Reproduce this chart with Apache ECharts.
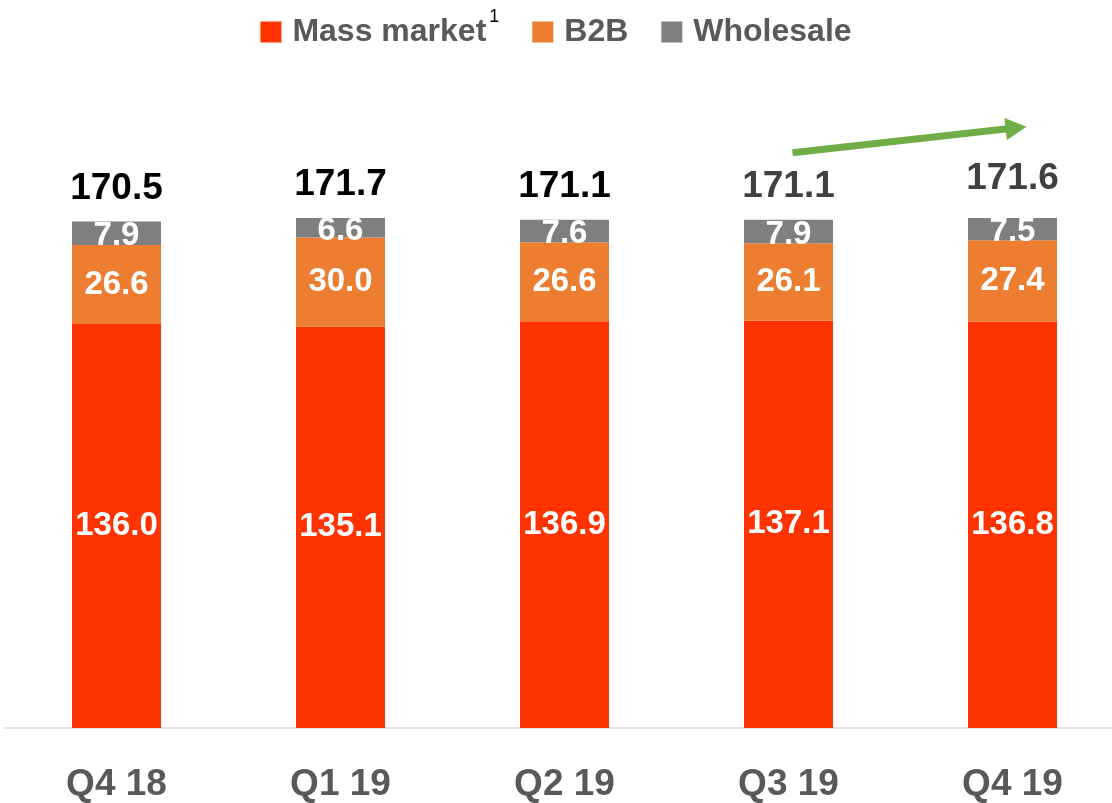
<!DOCTYPE html>
<html>
<head>
<meta charset="utf-8">
<script src="https://cdn.jsdelivr.net/npm/echarts@6/dist/echarts.min.js"></script>
<style>
html,body{margin:0;padding:0;background:#fff;}
#c{width:1112px;height:803px;}
</style>
</head>
<body>
<div id="c"></div>
<script>
var categories = ['Q4 18', 'Q1 19', 'Q2 19', 'Q3 19', 'Q4 19'];
var massMarket = [136.0, 135.1, 136.9, 137.1, 136.8];
var b2b = [26.6, 30.0, 26.6, 26.1, 27.4];
var wholesale = [7.9, 6.6, 7.6, 7.9, 7.5];
var totals = [170.5, 171.7, 171.1, 171.1, 171.6];
var totalColors = ['#000000', '#000000', '#000000', '#404040', '#404040'];
var totalDistance = [14, 14, 14, 14, 20];
var arrowFrom = ['Q3 19', 193.6];
var arrowTo = ['Q4 19', 202.4];

var FONT = '"Liberation Sans", Arial, sans-serif';
var chart = echarts.init(document.getElementById('c'), null, {renderer: 'canvas'});

function segLabel(dy) {
  return {show: true, position: 'inside', offset: [0, dy || 0], color: '#ffffff', fontSize: 33, fontWeight: 'bold', fontFamily: FONT,
    formatter: function (p) { return p.value.toFixed(1); }};
}

var option = {
  animation: false,
  backgroundColor: '#ffffff',
  legend: {
    data: ['Mass market', 'B2B', 'Wholesale'],
    top: 3,
    left: 'center',
    icon: 'rect',
    itemWidth: 21,
    itemHeight: 21,
    itemGap: 33,
    selectedMode: false,
    textStyle: {
      fontSize: 32, fontWeight: 'bold', color: '#595959', fontFamily: FONT,
      padding: [0, 0, 0, 6],
      rich: {
        n: {fontSize: 32, fontWeight: 'bold', color: '#595959', fontFamily: FONT, lineHeight: 48},
        sup: {fontSize: 18, fontWeight: 'normal', color: '#000000', fontFamily: FONT, lineHeight: 18,
          verticalAlign: 'top', padding: [0, 0, 0, 3]}
      }
    },
    formatter: function (name) {
      return name === 'Mass market' ? '{n|Mass market}{sup|1}' : name;
    }
  },
  grid: {left: 4.5, width: 1120, top: 15, bottom: 75, outerBoundsMode: 'none', containLabel: false},
  xAxis: {
    type: 'category',
    data: categories,
    boundaryGap: true,
    axisLine: {show: true, lineStyle: {color: '#d9d9d9', width: 1.5}},
    axisTick: {show: false},
    axisLabel: {margin: 38, fontSize: 37, fontWeight: 'bold', color: '#595959', fontFamily: FONT}
  },
  yAxis: {
    type: 'value', min: 0, max: 240, show: false,
    splitLine: {show: false}
  },
  series: [
    {name: 'Mass market', type: 'bar', stack: 'a', data: massMarket, barWidth: 89,
      itemStyle: {color: '#ff3300'}, label: segLabel(0), silent: true},
    {name: 'B2B', type: 'bar', stack: 'a', data: b2b, barWidth: 89,
      itemStyle: {color: '#ed7d31'}, label: segLabel(0), silent: true},
    {name: 'Wholesale', type: 'bar', stack: 'a', data: wholesale, barWidth: 89,
      itemStyle: {color: '#7f7f7f'}, label: segLabel(3), silent: true},
    {name: 'total', type: 'scatter', silent: true, symbolSize: 1,
      itemStyle: {color: 'rgba(0,0,0,0)', opacity: 1},
      data: totals.map(function (v, i) {
        return {value: [categories[i], v], label: {color: totalColors[i], distance: totalDistance[i]}};
      }),
      label: {show: true, position: 'top', opacity: 1, fontSize: 37, fontWeight: 'bold', fontFamily: FONT,
        formatter: function (p) { return p.value[1].toFixed(1); }}
    }
  ]
};
chart.setOption(option);

function drawArrow() {
  var a = chart.convertToPixel({xAxisIndex: 0, yAxisIndex: 0}, arrowFrom);
  var b = chart.convertToPixel({xAxisIndex: 0, yAxisIndex: 0}, arrowTo);
  var x1 = a[0] + 4, y1 = a[1];
  var x2 = b[0] + 14, y2 = b[1];
  var dx = x2 - x1, dy = y2 - y1, L = Math.sqrt(dx * dx + dy * dy);
  var ux = dx / L, uy = dy / L, px = -uy, py = ux;
  var hl = 21, hw = 11;
  var bx = x2 - ux * hl, by = y2 - uy * hl;
  chart.setOption({
    graphic: [
      {type: 'line', silent: true, shape: {x1: x1, y1: y1, x2: bx + ux * 2, y2: by + uy * 2},
        style: {stroke: '#70ad47', lineWidth: 7}},
      {type: 'polygon', silent: true,
        shape: {points: [[x2, y2], [bx + px * hw, by + py * hw], [bx - px * hw, by - py * hw]]},
        style: {fill: '#70ad47'}}
    ]
  });
}
drawArrow();
</script>
</body>
</html>
